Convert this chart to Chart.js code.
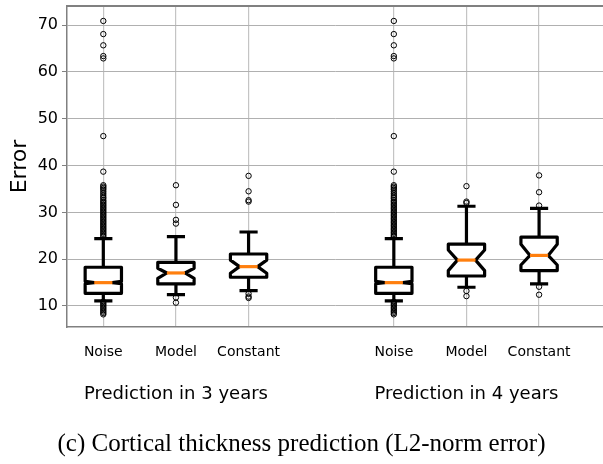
<!DOCTYPE html>
<html>
<head>
<meta charset="utf-8">
<script src="https://cdn.jsdelivr.net/npm/chart.js@4"></script>
<style>
  html, body { margin: 0; padding: 0; background: #fff; overflow: hidden; }
  canvas { display: block; }
</style>
</head>
<body>
<canvas id="chart" width="603" height="464"></canvas>
<script>
// Box plot data
const groupLabels = ['Prediction in 3 years', 'Prediction in 4 years'];
const methodLabels = ['Noise', 'Model', 'Constant'];
const positions = [1, 2, 3, 5, 6, 7];
const groupCenters = [2, 6];
const yTicks = [10, 20, 30, 40, 50, 60, 70];

const whiskerLow  = [11.07, 12.4, 13.27, 11.07, 14.0, 14.7];
const q1          = [12.7, 14.7, 16.13, 12.7, 16.4, 17.55];
const notchLow    = [14.75, 15.9, 17.0, 14.75, 17.55, 18.75];
const median      = [14.98, 17.05, 18.4, 14.98, 19.8, 20.8];
const notchHigh   = [15.25, 18.05, 19.8, 15.25, 21.96, 23.2];
const q3          = [18.27, 19.33, 21.1, 18.27, 23.2, 24.7];
const whiskerHigh = [24.37, 24.8, 25.8, 24.37, 31.3, 30.85];

const noiseOutliers = [70.9, 68.1, 65.7, 63.4, 62.9, 46.3, 38.7, 35.8, 35.5, 35.2, 34.9, 34.5,
  34.1, 33.7, 33.3, 33.0, 32.6, 32.3, 32.0, 31.7, 31.4, 31.1, 30.8, 30.5, 30.2, 29.9, 29.6,
  29.3, 29.0, 28.7, 28.4, 28.1, 27.8, 27.5, 27.2, 26.9, 26.6, 26.3, 26.0, 25.7, 25.4, 25.1,
  24.8, 10.9, 10.6, 10.3, 10.0, 9.7, 9.4, 9.1, 8.8, 8.5, 8.2];
const model3Outliers = [35.8, 31.6, 28.4, 27.6, 11.8, 10.7];
const const3Outliers = [37.8, 34.5, 32.6, 32.3, 12.6, 12.0, 11.7];
const model4Outliers = [35.6, 32.3, 32.0, 13.2, 12.1];
const const4Outliers = [37.9, 34.3, 31.45, 14.1, 12.4];
const outliers = [noiseOutliers, model3Outliers, const3Outliers, noiseOutliers, model4Outliers, const4Outliers];

const caption = '(c) Cortical thickness prediction (L2-norm error)';

const BOX_WIDTH = 0.5;
const LINE_W = 3.2;

// draws the notched boxes, whiskers and caps through the chart scales
const notchedBoxes = {
  id: 'notchedBoxes',
  beforeDatasetsDraw(chart) {
    const { ctx, scales: { x, y } } = chart;
    ctx.save();
    ctx.lineWidth = LINE_W;
    ctx.strokeStyle = '#000';
    ctx.lineJoin = 'round';
    ctx.lineCap = 'butt';
    positions.forEach((p, i) => {
      const cx = x.getPixelForValue(p);
      const bl = x.getPixelForValue(p - BOX_WIDTH / 2);
      const br = x.getPixelForValue(p + BOX_WIDTH / 2);
      const nl = x.getPixelForValue(p - BOX_WIDTH / 4);
      const nr = x.getPixelForValue(p + BOX_WIDTH / 4);
      const yq1 = y.getPixelForValue(q1[i]);
      const yq3 = y.getPixelForValue(q3[i]);
      const ylo = y.getPixelForValue(notchLow[i]);
      const yhi = y.getPixelForValue(notchHigh[i]);
      const ymed = y.getPixelForValue(median[i]);
      const ywl = y.getPixelForValue(whiskerLow[i]);
      const ywh = y.getPixelForValue(whiskerHigh[i]);

      // whiskers + caps
      ctx.beginPath();
      ctx.moveTo(cx, yq1); ctx.lineTo(cx, ywl);
      ctx.moveTo(cx, yq3); ctx.lineTo(cx, ywh);
      ctx.moveTo(nl, ywl); ctx.lineTo(nr, ywl);
      ctx.moveTo(nl, ywh); ctx.lineTo(nr, ywh);
      ctx.stroke();

      // notched box
      ctx.beginPath();
      ctx.moveTo(bl, yq1);
      ctx.lineTo(br, yq1);
      ctx.lineTo(br, ylo);
      ctx.lineTo(nr, ymed);
      ctx.lineTo(br, yhi);
      ctx.lineTo(br, yq3);
      ctx.lineTo(bl, yq3);
      ctx.lineTo(bl, yhi);
      ctx.lineTo(nl, ymed);
      ctx.lineTo(bl, ylo);
      ctx.closePath();
      ctx.fillStyle = '#fff';
      ctx.fill();
      ctx.stroke();

      // median
      ctx.beginPath();
      ctx.strokeStyle = '#ff7f0e';
      ctx.moveTo(nl, ymed); ctx.lineTo(nr, ymed);
      ctx.stroke();
      ctx.strokeStyle = '#000';
    });
    ctx.restore();
  },
  afterDraw(chart) {
    const { ctx, chartArea } = chart;
    ctx.save();
    ctx.strokeStyle = '#808080';
    ctx.lineWidth = 2;
    ctx.beginPath();
    ctx.moveTo(chartArea.left, chartArea.top);
    ctx.lineTo(chartArea.right, chartArea.top);
    ctx.stroke();
    ctx.restore();
  }
};

const datasets = positions.map((p, i) => ({
  data: outliers[i].map(v => ({ x: p, y: v })),
  pointRadius: 2.7,
  pointBorderWidth: 1,
  pointBorderColor: '#000',
  pointBackgroundColor: 'rgba(0,0,0,0)',
  showLine: false
}));

new Chart(document.getElementById('chart').getContext('2d'), {
  type: 'scatter',
  data: { datasets },
  plugins: [notchedBoxes],
  options: {
    responsive: false,
    devicePixelRatio: 1,
    animation: false,
    layout: { autoPadding: false, padding: { top: 6, left: 0, right: 0, bottom: 0 } },
    plugins: {
      legend: { display: false },
      tooltip: { enabled: false },
      title: {
        display: true,
        position: 'bottom',
        text: caption,
        color: '#000',
        font: { family: 'Liberation Serif', size: 25, weight: 'normal' },
        padding: { top: 20, bottom: 5 }
      }
    },
    scales: {
      x: {
        type: 'linear',
        min: 0.5,
        max: 7.88,
        weight: 0,
        afterBuildTicks: s => { s.ticks = positions.map(v => ({ value: v })); },
        afterFit: s => { s.height = 38; s.paddingLeft = 0; s.paddingRight = 0; },
        ticks: {
          callback: (v, i) => methodLabels[i % 3],
          color: '#000',
          font: { family: 'DejaVu Sans', size: 14 },
          padding: 16.6,
          maxRotation: 0,
          autoSkip: false
        },
        grid: { color: '#c4c4c4', lineWidth: 1.2, drawTicks: false },
        border: { color: '#808080', width: 1.5 }
      },
      x2: {
        type: 'linear',
        position: 'bottom',
        min: 0.5,
        max: 7.88,
        weight: 1,
        afterBuildTicks: s => { s.ticks = groupCenters.map(v => ({ value: v })); },
        afterFit: s => { s.height = 44; s.paddingLeft = 0; s.paddingRight = 0; },
        ticks: {
          callback: (v, i) => groupLabels[i],
          color: '#000',
          font: { family: 'DejaVu Sans', size: 18 },
          padding: 18.2,
          maxRotation: 0,
          autoSkip: false
        },
        grid: { display: false, drawTicks: false },
        border: { display: false }
      },
      y: {
        type: 'linear',
        min: 5.5,
        max: 74.1,
        afterBuildTicks: s => { s.ticks = yTicks.map(v => ({ value: v })); },
        afterFit: s => { s.width = 67; s.paddingTop = 0; s.paddingBottom = 0; },
        ticks: {
          color: '#000',
          font: { family: 'DejaVu Sans', size: 16 },
          padding: 4
        },
        grid: { color: '#b0b0b0', lineWidth: 1, tickLength: 5, tickColor: '#808080' },
        border: { color: '#808080', width: 1.5 },
        title: {
          display: true,
          text: 'Error',
          color: '#000',
          font: { family: 'DejaVu Sans', size: 22 },
          padding: { top: 7, bottom: 0 }
        }
      }
    }
  }
});
</script>
</body>
</html>
